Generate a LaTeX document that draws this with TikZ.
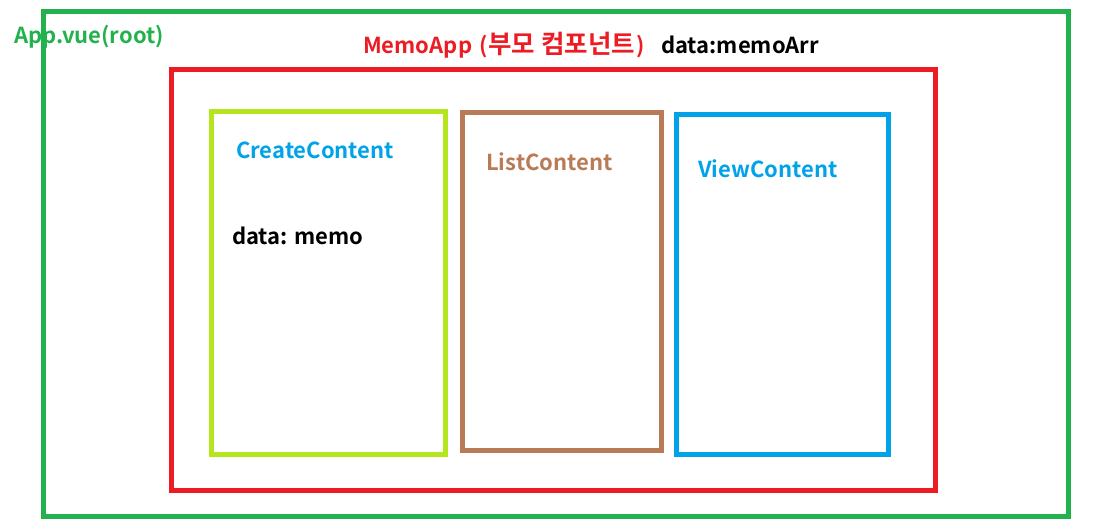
\documentclass[tikz,border=0pt]{standalone}
\usepackage{fontspec}
\setmainfont{Noto Sans CJK KR}[BoldFont={* Bold}]
\definecolor{pgreen}{HTML}{22B14C}
\definecolor{pred}{HTML}{ED1C24}
\definecolor{plime}{HTML}{B5E61D}
\definecolor{pbrown}{HTML}{B97A57}
\definecolor{pblue}{HTML}{00A2E8}
\tikzset{
  frame/.style={draw=#1, line width=5pt},
  lbl/.style={font=\bfseries\fontsize{22}{26}\selectfont, inner sep=0pt, anchor=west}
}
\begin{document}
\begin{tikzpicture}[x=1pt,y=-1pt]
\useasboundingbox (0,0) rectangle (1110,530);
\draw[frame=pgreen] (43,11) rectangle (1068,516);
\draw[frame=pred] (171,69) rectangle (935,490);
\draw[frame=plime] (211,111) rectangle (445,454);
\draw[frame=pbrown] (462,112) rectangle (661,450);
\draw[frame=pblue] (676,114) rectangle (888,454);
\node[lbl, text=pgreen] (app) at (14,37) {App.vue(root)};
\node[lbl, text=pred] (memoapp) at (363,45) {MemoApp\hspace{2pt} (\hspace{1pt}{\fontsize{25.5}{28}\selectfont 부모 컴포넌트}\hspace{1pt})};
\node[lbl, text=black] (memoarr) at (661,45) {data:memoArr};
\node[lbl, text=pblue] (create) at (236,150) {CreateContent};
\node[lbl, text=black] (memo) at (232,236) {data: memo};
\node[lbl, text=pbrown] (list) at (486,162) {ListContent};
\node[lbl, text=pblue] (view) at (698,169) {ViewContent};
\end{tikzpicture}
\end{document}
